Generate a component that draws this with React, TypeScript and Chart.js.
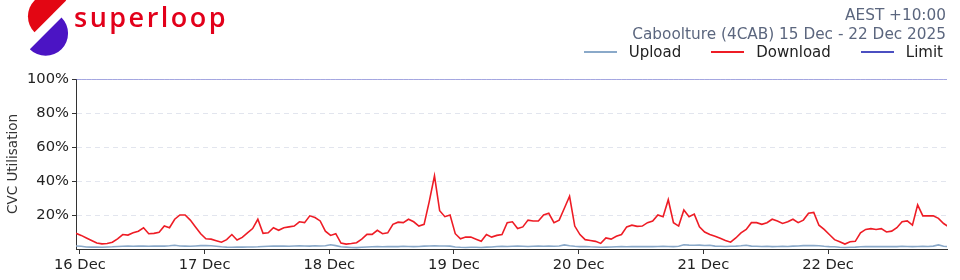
import React, { useEffect, useRef } from 'react';
import { Chart, registerables } from 'chart.js';

Chart.register(...registerables);

// Hours relative to 16 Dec 00:00 AEST of the first sample, hourly samples
const START_HOUR = -0.75;
const STEP_HOURS = 1;
const X_MAX_HOUR = 166.9;

const dayLabels = ['16 Dec', '17 Dec', '18 Dec', '19 Dec', '20 Dec', '21 Dec', '22 Dec'];
const yTickValues = [0, 20, 40, 60, 80, 100];

const downloadPct = [
  9.2, 8.0, 6.5, 5.0, 3.5, 3.0, 3.2, 4.0, 6.0, 8.5,
  8.2, 9.5, 10.5, 12.5, 9.0, 9.2, 9.8, 13.5, 12.5, 17.5,
  20, 20, 17, 13, 9, 6, 5.8, 4.9, 4.0, 5.5,
  8.5, 5.3, 6.8, 9.5, 12, 17.5, 9.2, 9.5, 12.5, 11,
  12.5, 13, 13.5, 16, 15.5, 19.5, 18.5, 16.5, 10.5, 8,
  9, 3.5, 2.9, 3.2, 3.7, 5.8, 8.6, 8.6, 11, 9,
  9.5, 14.5, 15.8, 15.5, 17.5, 16, 13.5, 14.5, 28, 43,
  22.5, 19, 20, 9, 6, 7, 7, 5.8, 4.5, 8.5,
  7, 8, 8.5, 15.5, 16, 12, 13, 17, 16.5, 16.5,
  20, 21, 15.5, 17, 24, 31, 13.5, 8.5, 5.5, 5,
  4.5, 3.3, 6.5, 5.8, 7.5, 8.5, 13, 14, 13.3, 13.5,
  15.5, 16.5, 20, 19, 29, 15.5, 13.5, 23, 19, 20.5,
  13, 10, 8.5, 7.5, 6.3, 5, 4, 6.5, 9.5, 11.5,
  15.5, 15.5, 14.5, 15.5, 17.5, 16.5, 15, 16, 17.5, 15.5,
  17, 21, 21.5, 14, 11.5, 8.5, 5.5, 4.3, 2.9, 4.3,
  4.5, 9.5, 11.5, 12, 11.5, 12, 10, 10.5, 12.5, 16,
  16.5, 14, 26, 19.5, 19.5, 19.5, 18, 15, 13,
];

const uploadPct = [
  1.8, 1.6, 1.2, 1.1, 1.2, 1.0, 1.2, 1.3, 1.5, 1.6,
  1.7, 1.6, 1.8, 1.7, 1.6, 1.7, 1.8, 1.7, 1.9, 2.2,
  1.8, 1.7, 1.6, 1.8, 2.0, 2.1, 1.9, 1.6, 1.3, 1.1,
  1.0, 1.2, 1.1, 1.2, 1.2, 1.3, 1.5, 1.6, 1.7, 1.8,
  1.7, 1.6, 1.8, 1.9, 1.8, 1.7, 1.9, 1.8, 1.9, 2.5,
  2.0, 1.3, 1.1, 0.9, 0.8, 1.0, 1.2, 1.3, 1.4, 1.3,
  1.4, 1.5, 1.4, 1.6, 1.5, 1.4, 1.5, 1.7, 1.8, 1.9,
  1.8, 1.8, 1.7, 1.2, 1.0, 0.9, 1.0, 1.0, 0.9, 1.1,
  1.2, 1.5, 1.6, 1.5, 1.6, 1.7, 1.6, 1.5, 1.6, 1.7,
  1.6, 1.7, 1.6, 1.8, 2.4, 1.9, 1.6, 1.4, 1.5, 1.3,
  1.2, 1.0, 1.1, 1.2, 1.3, 1.4, 1.3, 1.4, 1.5, 1.4,
  1.5, 1.4, 1.5, 1.6, 1.5, 1.4, 1.6, 2.5, 2.3, 2.2,
  2.3, 2.1, 2.2, 1.7, 1.6, 1.5, 1.6, 1.7, 1.9, 2.2,
  1.7, 1.6, 1.5, 1.6, 1.4, 1.5, 1.6, 1.5, 1.7, 1.8,
  2.0, 2.1, 2.0, 1.9, 1.6, 1.4, 1.3, 1.0, 0.9, 1.0,
  1.1, 1.3, 1.4, 1.5, 1.4, 1.5, 1.4, 1.5, 1.4, 1.6,
  1.5, 1.4, 1.5, 1.6, 1.5, 1.7, 2.4, 1.6, 1.4,
];

const LIMIT_PCT = 100;

const seriesNames = ['Upload', 'Download', 'Limit'];
const seriesColors = ['#8aa9c9', '#ee1c25', '#4b4fc1'];

const FONT = "'DejaVu Sans', sans-serif";

function toPoints(values: number[]) {
  return values.map((v, i) => ({ x: START_HOUR + i * STEP_HOURS, y: v }));
}

export default function App() {
  const canvasRef = useRef<HTMLCanvasElement | null>(null);

  useEffect(() => {
    const canvas = canvasRef.current;
    if (!canvas) return;
    const limitValues = downloadPct.map(() => LIMIT_PCT);
    const chart = new Chart(canvas, {
      type: 'line',
      data: {
        datasets: [
          {
            label: seriesNames[0],
            data: toPoints(uploadPct),
            borderColor: seriesColors[0],
            borderWidth: 1.6,
            pointRadius: 0,
            tension: 0,
          },
          {
            label: seriesNames[1],
            data: toPoints(downloadPct),
            borderColor: seriesColors[1],
            borderWidth: 1.6,
            pointRadius: 0,
            tension: 0,
          },
          {
            label: seriesNames[2],
            data: toPoints(limitValues),
            borderColor: seriesColors[2],
            borderWidth: 1,
            pointRadius: 0,
            tension: 0,
          },
        ],
      },
      options: {
        animation: false,
        responsive: false,
        maintainAspectRatio: false,
        layout: { padding: { top: 79, right: 13, left: 0, bottom: 0 } },
        plugins: {
          legend: { display: false },
          tooltip: { enabled: false },
          title: { display: false },
        },
        scales: {
          x: {
            type: 'linear',
            min: START_HOUR,
            max: X_MAX_HOUR,
            afterFit: (scale: any) => {
              scale.height = 31;
            },
            afterBuildTicks: (scale: any) => {
              scale.ticks = dayLabels.map((_, i) => ({ value: i * 24 }));
            },
            ticks: {
              autoSkip: false,
              maxRotation: 0,
              padding: 2,
              color: '#222',
              font: { family: FONT, size: 14.7 },
              callback: (value: any) => dayLabels[Math.round(Number(value) / 24)] ?? '',
            },
            grid: {
              drawOnChartArea: false,
              tickLength: 5,
              tickColor: '#333',
            },
            border: { display: true, color: '#333', width: 1 },
          },
          y: {
            min: 0,
            max: 100,
            afterFit: (scale: any) => {
              scale.width = 76;
            },
            afterBuildTicks: (scale: any) => {
              scale.ticks = yTickValues.map((v) => ({ value: v }));
            },
            ticks: {
              padding: 3,
              color: '#222',
              font: { family: FONT, size: 14.7 },
              callback: (value: any) => (Number(value) === 0 ? '' : `${value}%`),
            },
            grid: {
              color: (ctx: any) =>
                ctx.tick && (ctx.tick.value === 0 || ctx.tick.value === 100) ? 'rgba(0,0,0,0)' : '#e2e5ee',
              tickBorderDash: [1, 0],
              tickLength: 4,
              tickColor: (ctx: any) => (ctx.tick && ctx.tick.value === 0 ? 'rgba(0,0,0,0)' : '#333'),
            },
            border: { display: true, color: '#333', width: 1, dash: [5, 4] },
            title: {
              display: true,
              text: 'CVC Utilisation',
              color: '#333',
              font: { family: FONT, size: 13.5 },
              padding: { top: 5, bottom: 0 },
            },
          },
        },
      },
    } as any);
    return () => chart.destroy();
  }, []);

  const headerStyle: React.CSSProperties = {
    position: 'absolute',
    right: 14,
    fontFamily: FONT,
    fontSize: 15.3,
    lineHeight: '18px',
    color: '#5b667e',
    whiteSpace: 'nowrap',
  };

  return (
    <div style={{ position: 'absolute', left: 0, top: 0, width: 960, height: 280, background: '#fff', overflow: 'hidden' }}>
      <canvas ref={canvasRef} width={960} height={280} style={{ position: 'absolute', left: 0, top: 0, width: 960, height: 280 }} />
      <svg width={80} height={60} style={{ position: 'absolute', left: 0, top: 0 }}>
        <path d="M66.2 0.5 A22 22 0 0 0 34.5 32.2 Z" fill="#e30613" />
        <path d="M61.5 17.5 A22 22 0 0 1 29.8 49.2 Z" fill="#4b14c4" />
      </svg>
      <div
        style={{
          position: 'absolute',
          left: 74,
          top: 4,
          fontFamily: "'Open Sans', sans-serif",
          fontWeight: 600,
          fontSize: 27,
          lineHeight: '26px',
          letterSpacing: 2.5,
          color: '#e2001a',
        }}
      >
        superloop
      </div>
      <div style={{ ...headerStyle, top: 6 }}>AEST +10:00</div>
      <div style={{ ...headerStyle, top: 25 }}>Caboolture (4CAB) 15 Dec - 22 Dec 2025</div>
      <div style={{ ...headerStyle, fontSize: 15, top: 43, right: 17, color: '#222', display: 'flex', alignItems: 'center' }}>
        {seriesNames.map((name, i) => (
          <span key={name} style={{ display: 'flex', alignItems: 'center', marginLeft: i === 0 ? 0 : 30 }}>
            <span style={{ display: 'inline-block', width: 33, height: 2, background: seriesColors[i], marginRight: 12 }} />
            <span>{name}</span>
          </span>
        ))}
      </div>
    </div>
  );
}
